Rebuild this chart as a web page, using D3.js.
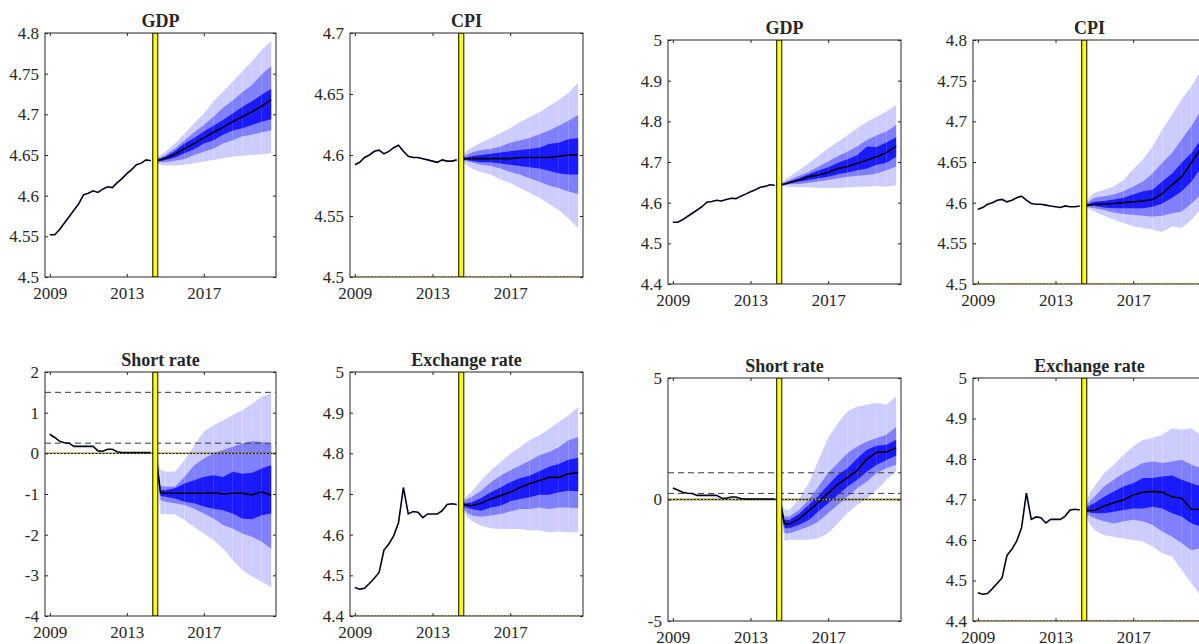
<!DOCTYPE html>
<html>
<head>
<meta charset="utf-8">
<script src="https://cdn.jsdelivr.net/npm/d3@7"></script>
<style>
  body { margin: 0; background: #fff; }
  svg { display: block; }
  text { font-family: "Liberation Serif", "Times New Roman", serif; fill: #262626; }
</style>
</head>
<body>
<svg id="chart" width="1199" height="644"></svg>
<script>
// dates (years, quarterly history then forecast)
const histDates = [2009, 2009.25, 2009.5, 2009.75, 2010, 2010.25, 2010.5, 2010.75, 2011, 2011.25, 2011.5,
  2011.75, 2012, 2012.25, 2012.5, 2012.75, 2013, 2013.25, 2013.5, 2013.75, 2014, 2014.25];
const fcDates = [2014.5, 2014.75, 2015, 2015.5, 2016, 2016.5, 2017, 2017.5, 2018, 2018.5, 2019, 2019.5, 2020, 2020.5];
const xTicks = [2009, 2013, 2017];

// history
const gdpHist = [4.552, 4.552, 4.558, 4.566, 4.574, 4.582, 4.590, 4.601, 4.603, 4.606, 4.604, 4.608, 4.611, 4.610,
  4.616, 4.621, 4.627, 4.632, 4.638, 4.640, 4.644, 4.643];
const cpiHist = [4.592, 4.594, 4.598, 4.600, 4.603, 4.604, 4.601, 4.603, 4.606, 4.608, 4.603, 4.599, 4.598, 4.598,
  4.597, 4.596, 4.595, 4.594, 4.596, 4.595, 4.595, 4.596];
const rateHist = [0.47, 0.39, 0.30, 0.26, 0.25, 0.17, 0.17, 0.17, 0.17, 0.17, 0.06, 0.05, 0.10, 0.10,
  0.04, 0.02, 0.02, 0.02, 0.02, 0.02, 0.02, 0.02];
const fxHist = [4.470, 4.466, 4.468, 4.480, 4.493, 4.507, 4.562, 4.577, 4.597, 4.630, 4.716, 4.651, 4.657, 4.655,
  4.642, 4.651, 4.651, 4.651, 4.659, 4.674, 4.676, 4.674];

// left figure forecasts: median, outer / middle / inner bands
const gdpA_med = [4.643, 4.644, 4.646, 4.651, 4.658, 4.664, 4.671, 4.678, 4.684, 4.691, 4.697, 4.703, 4.710, 4.718];
const gdpA_outHi = [4.646, 4.650, 4.654, 4.664, 4.676, 4.689, 4.701, 4.716, 4.728, 4.740, 4.753, 4.765, 4.779, 4.790];
const gdpA_outLo = [4.640, 4.638, 4.637, 4.637, 4.638, 4.640, 4.642, 4.644, 4.646, 4.648, 4.649, 4.650, 4.651, 4.652];
const gdpA_midHi = [4.645, 4.647, 4.650, 4.658, 4.668, 4.678, 4.687, 4.697, 4.708, 4.717, 4.727, 4.736, 4.749, 4.759];
const gdpA_midLo = [4.641, 4.641, 4.641, 4.643, 4.645, 4.650, 4.654, 4.658, 4.664, 4.668, 4.673, 4.675, 4.678, 4.680];
const gdpA_inHi = [4.644, 4.646, 4.648, 4.655, 4.664, 4.671, 4.679, 4.686, 4.693, 4.701, 4.709, 4.716, 4.724, 4.731];
const gdpA_inLo = [4.642, 4.643, 4.644, 4.647, 4.652, 4.657, 4.664, 4.668, 4.675, 4.680, 4.683, 4.687, 4.691, 4.694];

const cpiA_med = [4.597, 4.597, 4.597, 4.597, 4.597, 4.597, 4.597, 4.598, 4.598, 4.598, 4.598, 4.599, 4.600, 4.600];
const cpiA_outHi = [4.599, 4.603, 4.606, 4.610, 4.614, 4.618, 4.622, 4.627, 4.631, 4.635, 4.640, 4.645, 4.651, 4.659];
const cpiA_outLo = [4.595, 4.592, 4.589, 4.586, 4.584, 4.580, 4.577, 4.573, 4.569, 4.565, 4.560, 4.555, 4.548, 4.540];
const cpiA_midHi = [4.598, 4.600, 4.602, 4.604, 4.605, 4.607, 4.610, 4.612, 4.614, 4.617, 4.620, 4.624, 4.628, 4.633];
const cpiA_midLo = [4.596, 4.595, 4.594, 4.592, 4.591, 4.589, 4.586, 4.584, 4.581, 4.578, 4.575, 4.573, 4.570, 4.568];
const cpiA_inHi = [4.597, 4.598, 4.599, 4.600, 4.601, 4.602, 4.603, 4.604, 4.605, 4.606, 4.609, 4.610, 4.613, 4.614];
const cpiA_inLo = [4.596, 4.596, 4.595, 4.594, 4.594, 4.593, 4.592, 4.591, 4.590, 4.589, 4.587, 4.585, 4.584, 4.584];

const rateA_med = [0.00, -0.97, -0.98, -0.98, -0.98, -0.98, -0.98, -0.97, -1.00, -0.98, -0.98, -1.02, -0.95, -1.03];
const rateA_outHi = [0.00, -0.40, -0.45, -0.45, -0.17, 0.20, 0.53, 0.69, 0.81, 0.94, 1.06, 1.22, 1.39, 1.47];
const rateA_outLo = [0.00, -1.50, -1.50, -1.50, -1.64, -1.81, -1.97, -2.13, -2.34, -2.62, -2.87, -3.03, -3.15, -3.30];
const rateA_midHi = [0.00, -0.80, -0.82, -0.82, -0.58, -0.29, -0.13, 0.00, 0.08, 0.16, 0.24, 0.30, 0.28, 0.24];
const rateA_midLo = [0.00, -1.15, -1.19, -1.23, -1.27, -1.36, -1.48, -1.60, -1.76, -1.85, -1.97, -2.05, -2.17, -2.34];
const rateA_inHi = [0.00, -0.90, -0.91, -0.86, -0.74, -0.66, -0.58, -0.54, -0.58, -0.45, -0.50, -0.48, -0.37, -0.29];
const rateA_inLo = [0.00, -1.05, -1.07, -1.11, -1.19, -1.23, -1.31, -1.36, -1.40, -1.48, -1.60, -1.62, -1.52, -1.48];

const fxA_med = [4.675, 4.673, 4.671, 4.677, 4.688, 4.696, 4.704, 4.716, 4.725, 4.733, 4.741, 4.741, 4.750, 4.752];
const fxA_outHi = [4.680, 4.695, 4.704, 4.733, 4.758, 4.778, 4.799, 4.815, 4.832, 4.844, 4.860, 4.877, 4.893, 4.914];
const fxA_outLo = [4.668, 4.645, 4.634, 4.622, 4.616, 4.614, 4.614, 4.614, 4.611, 4.610, 4.606, 4.608, 4.606, 4.606];
const fxA_midHi = [4.677, 4.687, 4.692, 4.708, 4.729, 4.745, 4.758, 4.770, 4.782, 4.795, 4.803, 4.815, 4.832, 4.840];
const fxA_midLo = [4.671, 4.655, 4.647, 4.644, 4.647, 4.651, 4.657, 4.663, 4.663, 4.667, 4.663, 4.667, 4.667, 4.665];
const fxA_inHi = [4.676, 4.678, 4.679, 4.690, 4.704, 4.716, 4.729, 4.739, 4.745, 4.756, 4.767, 4.774, 4.784, 4.789];
const fxA_inLo = [4.673, 4.666, 4.663, 4.659, 4.667, 4.671, 4.682, 4.688, 4.692, 4.698, 4.698, 4.704, 4.708, 4.707];

// right figure forecasts
const gdpB_med = [4.643, 4.646, 4.649, 4.656, 4.664, 4.668, 4.674, 4.684, 4.689, 4.697, 4.705, 4.713, 4.723, 4.739];
const gdpB_outHi = [4.645, 4.655, 4.664, 4.680, 4.697, 4.715, 4.734, 4.750, 4.766, 4.783, 4.799, 4.811, 4.824, 4.840];
const gdpB_outLo = [4.641, 4.640, 4.639, 4.638, 4.638, 4.636, 4.636, 4.636, 4.637, 4.639, 4.639, 4.641, 4.639, 4.643];
const gdpB_midHi = [4.644, 4.650, 4.656, 4.666, 4.676, 4.689, 4.701, 4.715, 4.725, 4.739, 4.754, 4.766, 4.775, 4.791];
const gdpB_midLo = [4.642, 4.643, 4.645, 4.646, 4.649, 4.652, 4.656, 4.660, 4.664, 4.666, 4.668, 4.672, 4.680, 4.689];
const gdpB_inHi = [4.644, 4.648, 4.652, 4.660, 4.670, 4.679, 4.687, 4.698, 4.707, 4.717, 4.738, 4.737, 4.748, 4.761];
const gdpB_inLo = [4.643, 4.645, 4.648, 4.652, 4.656, 4.660, 4.664, 4.670, 4.674, 4.680, 4.684, 4.693, 4.698, 4.713];

const cpiB_med = [4.596, 4.597, 4.598, 4.598, 4.599, 4.600, 4.601, 4.602, 4.604, 4.611, 4.622, 4.632, 4.649, 4.667];
const cpiB_outHi = [4.597, 4.607, 4.612, 4.616, 4.620, 4.628, 4.641, 4.653, 4.669, 4.690, 4.708, 4.727, 4.743, 4.763];
const cpiB_outLo = [4.595, 4.592, 4.589, 4.584, 4.579, 4.575, 4.571, 4.569, 4.567, 4.564, 4.571, 4.569, 4.579, 4.593];
const cpiB_midHi = [4.597, 4.602, 4.606, 4.608, 4.610, 4.614, 4.620, 4.626, 4.636, 4.649, 4.661, 4.678, 4.694, 4.714];
const cpiB_midLo = [4.596, 4.594, 4.593, 4.591, 4.588, 4.586, 4.585, 4.584, 4.583, 4.584, 4.587, 4.589, 4.599, 4.610];
const cpiB_inHi = [4.597, 4.599, 4.601, 4.602, 4.604, 4.606, 4.610, 4.614, 4.616, 4.626, 4.636, 4.649, 4.661, 4.678];
const cpiB_inLo = [4.596, 4.596, 4.596, 4.594, 4.593, 4.593, 4.593, 4.593, 4.595, 4.599, 4.606, 4.614, 4.626, 4.643];

const rateB_med = [0.00, -1.00, -1.02, -0.80, -0.47, -0.12, 0.26, 0.62, 0.90, 1.20, 1.66, 1.94, 1.96, 2.12];
const rateB_outHi = [0.00, -0.40, -0.43, 0.00, 0.67, 1.63, 2.53, 3.15, 3.63, 3.83, 3.90, 3.97, 3.90, 4.24];
const rateB_outLo = [0.00, -1.70, -1.66, -1.66, -1.66, -1.59, -1.39, -0.98, -0.56, -0.22, 0.05, 0.40, 0.81, 1.15];
const rateB_midHi = [0.00, -0.70, -0.70, -0.43, -0.01, 0.54, 1.09, 1.50, 1.91, 2.18, 2.39, 2.53, 2.66, 2.98];
const rateB_midLo = [0.00, -1.39, -1.39, -1.25, -1.11, -0.91, -0.56, -0.22, 0.12, 0.47, 0.74, 1.09, 1.29, 1.43];
const rateB_inHi = [0.00, -0.84, -0.84, -0.59, -0.22, 0.15, 0.60, 1.02, 1.29, 1.70, 2.05, 2.21, 2.25, 2.46];
const rateB_inLo = [0.00, -1.18, -1.18, -1.04, -0.84, -0.49, -0.15, 0.19, 0.54, 0.81, 1.15, 1.43, 1.63, 1.80];

const fxB_med = [4.673, 4.673, 4.673, 4.684, 4.692, 4.699, 4.711, 4.718, 4.720, 4.718, 4.707, 4.703, 4.676, 4.675];
const fxB_outHi = [4.680, 4.715, 4.732, 4.765, 4.786, 4.810, 4.831, 4.847, 4.852, 4.860, 4.876, 4.872, 4.876, 4.858];
const fxB_outLo = [4.668, 4.640, 4.625, 4.612, 4.608, 4.604, 4.600, 4.596, 4.584, 4.567, 4.559, 4.526, 4.493, 4.460];
const fxB_midHi = [4.676, 4.695, 4.707, 4.732, 4.749, 4.765, 4.777, 4.790, 4.794, 4.790, 4.794, 4.798, 4.786, 4.777];
const fxB_midLo = [4.670, 4.660, 4.654, 4.646, 4.641, 4.646, 4.650, 4.646, 4.637, 4.621, 4.608, 4.592, 4.575, 4.580];
const fxB_inHi = [4.675, 4.685, 4.691, 4.707, 4.720, 4.732, 4.740, 4.753, 4.753, 4.757, 4.759, 4.749, 4.740, 4.732];
const fxB_inLo = [4.672, 4.668, 4.666, 4.666, 4.670, 4.674, 4.678, 4.678, 4.682, 4.678, 4.666, 4.658, 4.641, 4.633];

// y tick labels
const ticksGdpA = [4.5, 4.55, 4.6, 4.65, 4.7, 4.75, 4.8];
const ticksCpiA = [4.5, 4.55, 4.6, 4.65, 4.7];
const ticksRateA = [-4, -3, -2, -1, 0, 1, 2];
const ticksFx = [4.4, 4.5, 4.6, 4.7, 4.8, 4.9, 5];
const ticksCpiB = [4.5, 4.55, 4.6, 4.65, 4.7, 4.75, 4.8];
const ticksRateB = [-5, 0, 5];

// policy-rate reference lines (dashed)
const rateRefA = [1.5, 0.25];
const rateRefB = [1.1, 0.25];

const bandColors = ['#ccccff', '#8080ff', '#1a1aff'];
const xDomain = [2008.75, 2020.75];
const shadeSpan = [2014.35, 2014.61];

const panels = [
  { title: 'GDP', x0: 45, x1: 276, y0: 33, y1: 277, dom: [4.5, 4.8], ticks: ticksGdpA, hist: gdpHist,
    med: gdpA_med, bands: [[gdpA_outLo, gdpA_outHi], [gdpA_midLo, gdpA_midHi], [gdpA_inLo, gdpA_inHi]] },
  { title: 'CPI', x0: 350, x1: 583, y0: 33, y1: 277, dom: [4.5, 4.7], ticks: ticksCpiA, hist: cpiHist, floorLine: true,
    med: cpiA_med, bands: [[cpiA_outLo, cpiA_outHi], [cpiA_midLo, cpiA_midHi], [cpiA_inLo, cpiA_inHi]] },
  { title: 'Short rate', x0: 45, x1: 276, y0: 372, y1: 616, dom: [-4, 2], ticks: ticksRateA, hist: rateHist, refs: rateRefA,
    med: rateA_med, bands: [[rateA_outLo, rateA_outHi], [rateA_midLo, rateA_midHi], [rateA_inLo, rateA_inHi]] },
  { title: 'Exchange rate', x0: 350, x1: 583, y0: 372, y1: 616, dom: [4.4, 5], ticks: ticksFx, hist: fxHist, floorLine: true,
    med: fxA_med, bands: [[fxA_outLo, fxA_outHi], [fxA_midLo, fxA_midHi], [fxA_inLo, fxA_inHi]] },
  { title: 'GDP', x0: 668, x1: 901, y0: 40, y1: 284, dom: [4.4, 5], ticks: ticksFx, hist: gdpHist,
    med: gdpB_med, bands: [[gdpB_outLo, gdpB_outHi], [gdpB_midLo, gdpB_midHi], [gdpB_inLo, gdpB_inHi]] },
  { title: 'CPI', x0: 973, x1: 1206, y0: 40, y1: 284, dom: [4.5, 4.8], ticks: ticksCpiB, hist: cpiHist, floorLine: true,
    med: cpiB_med, bands: [[cpiB_outLo, cpiB_outHi], [cpiB_midLo, cpiB_midHi], [cpiB_inLo, cpiB_inHi]] },
  { title: 'Short rate', x0: 668, x1: 901, y0: 378, y1: 621, dom: [-5, 5], ticks: ticksRateB, hist: rateHist, refs: rateRefB,
    med: rateB_med, bands: [[rateB_outLo, rateB_outHi], [rateB_midLo, rateB_midHi], [rateB_inLo, rateB_inHi]] },
  { title: 'Exchange rate', x0: 973, x1: 1206, y0: 378, y1: 621, dom: [4.4, 5], ticks: ticksFx, hist: fxHist, floorLine: true,
    med: fxB_med, bands: [[fxB_outLo, fxB_outHi], [fxB_midLo, fxB_midHi], [fxB_inLo, fxB_inHi]] }
];

const svg = d3.select('#chart');
svg.append('rect').attr('width', 1199).attr('height', 644).attr('fill', '#fff');

panels.forEach((p, k) => {
  const x = d3.scaleLinear().domain(xDomain).range([p.x0, p.x1]);
  const y = d3.scaleLinear().domain(p.dom).range([p.y1, p.y0]);

  svg.append('clipPath').attr('id', 'clip' + k)
    .append('rect').attr('x', p.x0).attr('y', p.y0)
    .attr('width', p.x1 - p.x0).attr('height', p.y1 - p.y0);

  const g = svg.append('g').attr('clip-path', `url(#clip${k})`);

  // fan bands, drawn one quarter-segment at a time
  p.bands.forEach((b, j) => {
    const area = d3.area()
      .x(i => x(fcDates[i]))
      .y0(i => y(b[0][i]))
      .y1(i => y(b[1][i]));
    for (let i = 0; i < fcDates.length - 1; i++) {
      g.append('path').attr('d', area([i, i + 1])).attr('fill', bandColors[j]);
    }
  });

  // reference lines for the short rate
  if (p.refs) {
    p.refs.forEach(r => {
      g.append('line')
        .attr('x1', p.x0).attr('x2', p.x1).attr('y1', y(r)).attr('y2', y(r))
        .attr('stroke', '#3a3a3a').attr('stroke-width', 1).attr('stroke-dasharray', '6,4');
    });
    g.append('line')
      .attr('x1', p.x0).attr('x2', p.x1).attr('y1', y(0)).attr('y2', y(0))
      .attr('stroke', '#111').attr('stroke-width', 1.3);
    g.append('line')
      .attr('x1', p.x0).attr('x2', p.x1).attr('y1', y(0)).attr('y2', y(0))
      .attr('stroke', '#d8cc00').attr('stroke-width', 1.3).attr('stroke-dasharray', '1.5,2');
  }
  if (p.floorLine) {
    g.append('line')
      .attr('x1', p.x0).attr('x2', p.x1).attr('y1', p.y1 - 0.5).attr('y2', p.y1 - 0.5)
      .attr('stroke', '#b8ae00').attr('stroke-width', 1.2).attr('stroke-dasharray', '1.5,2');
  }

  const line = d3.line().x(d => x(d[0])).y(d => y(d[1]));
  g.append('path')
    .attr('d', line(histDates.map((d, i) => [d, p.hist[i]])))
    .attr('fill', 'none').attr('stroke', '#00001c').attr('stroke-width', 1.6);
  g.append('path')
    .attr('d', line(fcDates.map((d, i) => [d, p.med[i]])))
    .attr('fill', 'none').attr('stroke', '#000').attr('stroke-width', 1.6);

  // forecast start marker
  g.append('rect')
    .attr('x', x(shadeSpan[0])).attr('width', x(shadeSpan[1]) - x(shadeSpan[0]))
    .attr('y', p.y0).attr('height', p.y1 - p.y0)
    .attr('fill', '#ffff00').attr('stroke', '#000').attr('stroke-width', 1);

  // axes: ticks inside, on all four sides
  const fmt = v => String(v);
  const bottom = svg.append('g').attr('transform', `translate(0,${p.y1})`)
    .call(d3.axisBottom(x).tickValues(xTicks).tickSize(-3).tickPadding(10).tickFormat(fmt));
  const top = svg.append('g').attr('transform', `translate(0,${p.y0})`)
    .call(d3.axisTop(x).tickValues(xTicks).tickSize(-3).tickFormat(''));
  const left = svg.append('g').attr('transform', `translate(${p.x0},0)`)
    .call(d3.axisLeft(y).tickValues(p.ticks).tickSize(-3).tickPadding(6).tickFormat(fmt));
  const right = svg.append('g').attr('transform', `translate(${p.x1},0)`)
    .call(d3.axisRight(y).tickValues(p.ticks).tickSize(-3).tickFormat(''));
  [bottom, top, left, right].forEach(a => {
    a.select('.domain').remove();
    a.selectAll('line').attr('stroke', '#262626');
    a.selectAll('text').attr('font-size', 17).attr('font-family', '"Liberation Serif", serif').attr('fill', '#262626');
  });

  svg.append('rect')
    .attr('x', p.x0).attr('y', p.y0).attr('width', p.x1 - p.x0).attr('height', p.y1 - p.y0)
    .attr('fill', 'none').attr('stroke', '#262626').attr('stroke-width', 1);

  svg.append('text')
    .attr('x', (p.x0 + p.x1) / 2).attr('y', p.y0 - 6)
    .attr('text-anchor', 'middle').attr('font-size', 18).attr('font-weight', 'bold')
    .attr('fill', '#000')
    .text(p.title);
});
</script>
</body>
</html>
